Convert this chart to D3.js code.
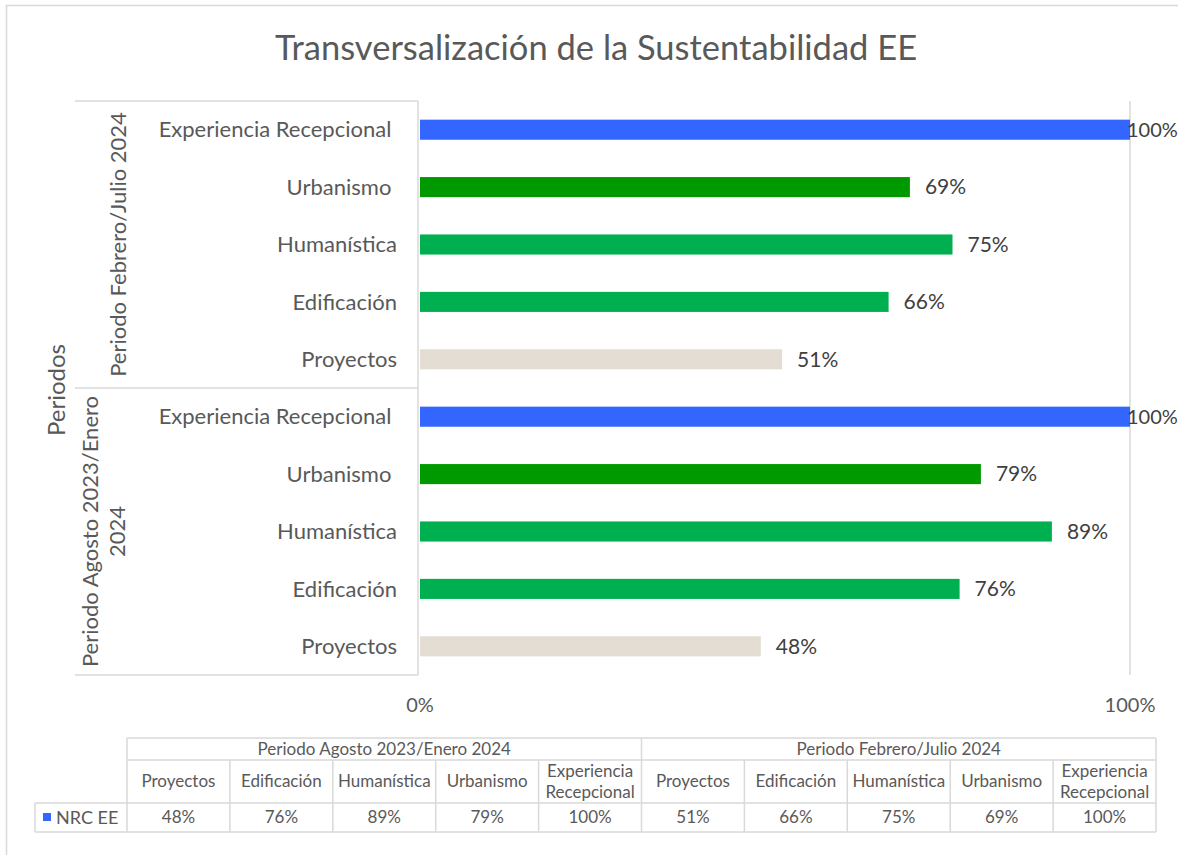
<!DOCTYPE html>
<html>
<head>
<meta charset="utf-8">
<script src="https://cdn.jsdelivr.net/npm/d3@7/dist/d3.min.js"></script>
<style>
  body { margin: 0; background: #fff; }
  svg text { font-family: Lato, "Open Sans", sans-serif; fill: #595959; }
</style>
</head>
<body>
<svg id="chart" width="1178" height="855"></svg>
<script>
const title = "Transversalización de la Sustentabilidad EE";
const axisTitle = "Periodos";
const periods = ["Periodo Agosto 2023/Enero 2024", "Periodo Febrero/Julio 2024"];
const periodLines = [["Periodo Agosto 2023/Enero", "2024"], ["Periodo Febrero/Julio 2024"]];
const categories = ["Proyectos", "Edificación", "Humanística", "Urbanismo", "Experiencia Recepcional"];
const categoryLabels = ["Proyectos", "Edificación", "Humanística", "Urbanismo ", "Experiencia Recepcional "];
const tableCategoryLines = [["Proyectos"], ["Edificación"], ["Humanística"], ["Urbanismo"], ["Experiencia", "Recepcional"]];
const valuesAgosto = [48, 76, 89, 79, 100];
const valuesFebrero = [51, 66, 75, 69, 100];
const seriesName = "NRC EE";
const seriesColor = "#3366FF";
const categoryColors = ["#E3DDD3", "#00B050", "#00B050", "#009900", "#3366FF"];
const xTicks = [0, 100];

const svg = d3.select("#chart");
const grid = "#d9d9d9";

// outer chart border
svg.append("rect").attr("x", 6.5).attr("y", 5.5).attr("width", 1200).attr("height", 900)
  .attr("fill", "none").attr("stroke", grid).attr("stroke-width", 1.5);

// title
svg.append("text").attr("x", 596).attr("y", 60).attr("text-anchor", "middle")
  .attr("font-size", 34.5).text(title);

// rows: top to bottom = Febrero (reverse cats), then Agosto (reverse cats)
const allValues = [valuesAgosto, valuesFebrero];
const rows = [];
[1, 0].forEach(p => {
  for (let c = categories.length - 1; c >= 0; c--) {
    rows.push({ key: p + "-" + c, period: p, cat: c, value: allValues[p][c] });
  }
});

const x = d3.scaleLinear().domain([0, 100]).range([420, 1130]);
const y = d3.scaleBand().domain(rows.map(r => r.key)).range([101, 675])
  .paddingInner(0.65).paddingOuter(0.325);

// gridline at 100%
svg.append("line").attr("x1", x(100)).attr("x2", x(100)).attr("y1", 101).attr("y2", 675)
  .attr("stroke", grid).attr("stroke-width", 1.5);

// bars
svg.selectAll("rect.bar").data(rows).join("rect").attr("class", "bar")
  .attr("x", x(0)).attr("y", r => y(r.key))
  .attr("width", r => x(r.value) - x(0)).attr("height", y.bandwidth())
  .attr("fill", r => categoryColors[r.cat]);

// data labels
svg.selectAll("text.dl").data(rows).join("text").attr("class", "dl")
  .attr("x", r => r.value >= 100 ? x(r.value) - 3 : x(r.value) + 15)
  .attr("y", r => y(r.key) + y.bandwidth() / 2).attr("dy", "0.35em")
  .attr("font-size", r => r.value >= 100 ? 20 : 21).style("fill", "#404040")
  .text(r => r.value + "%");

// category axis structure
const axX = 418;
svg.append("line").attr("x1", axX).attr("x2", axX).attr("y1", 101).attr("y2", 675)
  .attr("stroke", grid).attr("stroke-width", 1.5);
[101, 388, 675].forEach(yy => {
  svg.append("line").attr("x1", 75).attr("x2", axX).attr("y1", yy).attr("y2", yy)
    .attr("stroke", grid).attr("stroke-width", 1.5);
});

// category labels
svg.selectAll("text.cat").data(rows).join("text").attr("class", "cat")
  .attr("x", 397).attr("y", r => y(r.key) + y.bandwidth() / 2).attr("dy", "0.35em")
  .attr("text-anchor", "end").attr("font-size", 22).style("white-space", "pre")
  .text(r => categoryLabels[r.cat]);

// period labels (rotated)
const periodCenters = [531.5, 244.5];
periodLines.forEach((lines, p) => {
  const lh = 27;
  const baseX = p === 0 ? 98 : 126;
  lines.forEach((ln, i) => {
    svg.append("text")
      .attr("transform", `translate(${baseX + i * lh},${periodCenters[p]}) rotate(-90)`)
      .attr("text-anchor", "middle").attr("font-size", 22).text(ln);
  });
});

// axis title
svg.append("text").attr("transform", "translate(65,390) rotate(-90)")
  .attr("text-anchor", "middle").attr("font-size", 24).text(axisTitle);

// x tick labels
svg.selectAll("text.xt").data(xTicks).join("text").attr("class", "xt")
  .attr("x", d => x(d)).attr("y", 712).attr("text-anchor", "middle")
  .attr("font-size", 20).text(d => d + "%");

// data table
const tLeft = 127, tRight = 1156, legLeft = 35;
const colW = (tRight - tLeft) / 10;
const r0 = 738, r1 = 760, r2 = 803, r3 = 832;
const tfs = 17;
const tg = svg.append("g");
const ln = (x1, y1, x2, y2) => tg.append("line").attr("x1", x1).attr("y1", y1).attr("x2", x2).attr("y2", y2)
  .attr("stroke", grid).attr("stroke-width", 1.5);
ln(tLeft, r0, tRight, r0);
ln(tLeft, r1, tRight, r1);
ln(legLeft, r2, tRight, r2);
ln(legLeft, r3, tRight, r3);
ln(legLeft, r2, legLeft, r3);
ln(tLeft, r0, tLeft, r3);
ln(tLeft + 5 * colW, r0, tLeft + 5 * colW, r3);
ln(tRight, r0, tRight, r3);
for (let i = 1; i < 10; i++) if (i !== 5) ln(tLeft + i * colW, r1, tLeft + i * colW, r3);

periods.forEach((p, i) => {
  tg.append("text").attr("x", tLeft + (i * 5 + 2.5) * colW).attr("y", (r0 + r1) / 2).attr("dy", "0.35em")
    .attr("text-anchor", "middle").attr("font-size", tfs).text(p);
  tableCategoryLines.forEach((lines, c) => {
    const cx = tLeft + (i * 5 + c + 0.5) * colW;
    const cy = (r1 + r2) / 2;
    lines.forEach((t, k) => {
      tg.append("text").attr("x", cx).attr("y", cy + (k - (lines.length - 1) / 2) * 21).attr("dy", "0.35em")
        .attr("text-anchor", "middle").attr("font-size", tfs).text(t);
    });
    tg.append("text").attr("x", cx).attr("y", (r2 + r3) / 2).attr("dy", "0.35em")
      .attr("text-anchor", "middle").attr("font-size", tfs).text(allValues[i][c] + "%");
  });
});
tg.append("rect").attr("x", 43).attr("y", 813).attr("width", 8).attr("height", 8).attr("fill", seriesColor);
tg.append("text").attr("x", 56).attr("y", (r2 + r3) / 2).attr("dy", "0.35em")
  .attr("font-size", 18).text(seriesName);
</script>
</body>
</html>
